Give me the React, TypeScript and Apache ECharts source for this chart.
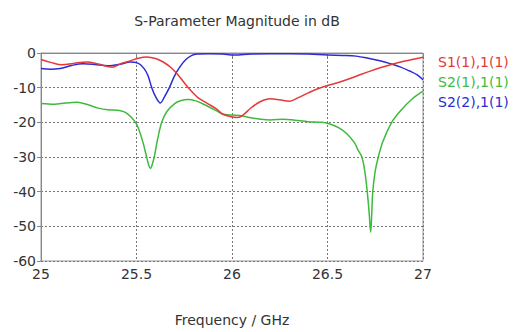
import React, { useEffect, useRef } from "react";
import * as echarts from "echarts";

const titleText = "S-Parameter Magnitude in dB";
const xAxisName = "Frequency / GHz";
const seriesNames = ["S1(1),1(1)", "S2(1),1(1)", "S2(2),1(1)"];
const seriesColors = ["#e5383b", "#3dbb3d", "#2b2bd6"];

const s11Freq = [25, 25.05, 25.11, 25.17, 25.24, 25.3, 25.375, 25.42, 25.47, 25.51, 25.553, 25.6, 25.64, 25.68, 25.72, 25.771, 25.82, 25.87, 25.92, 25.95, 25.99, 26.03, 26.06, 26.1, 26.15, 26.2, 26.25, 26.3, 26.35, 26.4, 26.45, 26.5, 26.58, 26.65, 26.72, 26.78, 26.83, 26.9, 26.95, 27];
const s11Val = [-1.9, -2.7, -3.4, -3.0, -2.6, -3.2, -4.1, -3.0, -2.2, -1.5, -1.15, -1.6, -2.6, -4.2, -6.5, -10, -12.8, -14.5, -16.2, -17.6, -18.3, -18.6, -17.8, -15.8, -14.0, -13.2, -13.5, -13.9, -12.8, -11.5, -10.3, -9.4, -8.1, -6.7, -5.3, -4.2, -3.4, -2.4, -1.8, -1.2];

const s21Freq = [25, 25.07, 25.13, 25.19, 25.25, 25.3, 25.35, 25.41, 25.45, 25.495, 25.515, 25.535, 25.553, 25.565, 25.574, 25.583, 25.593, 25.61, 25.632, 25.66, 25.7, 25.73, 25.77, 25.81, 25.86, 25.92, 25.95, 26.0, 26.04, 26.1, 26.15, 26.2, 26.27, 26.33, 26.4, 26.47, 26.52, 26.56, 26.6, 26.64, 26.66, 26.68, 26.695, 26.708, 26.718, 26.726, 26.732, 26.737, 26.75, 26.766, 26.79, 26.836, 26.88, 26.94, 27];
const s21Val = [-14.6, -14.8, -14.4, -14.2, -15.0, -15.9, -16.4, -16.6, -17.4, -20, -22.5, -26, -30, -32.5, -33.3, -32, -30, -25, -20, -16.8, -14.6, -13.8, -13.4, -13.8, -15.0, -16.7, -17.6, -17.9, -18.0, -18.7, -19.1, -19.3, -19.1, -19.4, -19.8, -20.0, -20.6, -21.6, -23.2, -25.8, -28.0, -30, -34, -40, -46, -51.7, -46, -40, -34, -30, -25.5, -20, -16.8, -13.4, -11];

const s22Freq = [25, 25.05, 25.1, 25.16, 25.22, 25.28, 25.35, 25.42, 25.466, 25.51, 25.54, 25.56, 25.58, 25.6, 25.625, 25.645, 25.672, 25.7, 25.73, 25.76, 25.79, 25.815, 25.88, 25.95, 26.01, 26.1, 26.2, 26.3, 26.4, 26.5, 26.58, 26.65, 26.72, 26.78, 26.83, 26.88, 26.93, 26.97, 27];
const s22Val = [-4.5, -4.7, -4.5, -3.6, -3.1, -3.3, -3.7, -3.2, -2.6, -3.0, -4.5, -6.5, -10, -12.6, -14.4, -12.8, -10, -6.5, -3.8, -1.8, -0.7, -0.3, -0.2, -0.3, -0.6, -0.3, -0.2, -0.2, -0.3, -0.6, -0.7, -0.9, -1.6, -2.3, -3.1, -4.0, -5.2, -6.3, -7.7];

const yTicks = [-60, -50, -40, -30, -20, -10, 0];
const xTicks = [25, 25.5, 26, 26.5, 27];

const FONT = "DejaVu Sans";

function pairs(f: number[], v: number[]) {
  return f.map((x, i) => [x, v[i]]);
}

export default function App() {
  const ref = useRef<HTMLDivElement>(null);
  useEffect(() => {
    if (!ref.current) return;
    const chart = echarts.init(ref.current, undefined, { renderer: "svg" });
    const data = [pairs(s11Freq, s11Val), pairs(s21Freq, s21Val), pairs(s22Freq, s22Val)];
    chart.setOption({
      animation: false,
      backgroundColor: "#ffffff",
      title: {
        text: titleText,
        left: 232,
        textAlign: "center",
        top: 9,
        textStyle: { fontFamily: FONT, fontSize: 14, fontWeight: "normal", color: "#333" },
      },
      grid: {
        left: 41,
        right: 90,
        top: 53,
        bottom: 70,
        show: true,
        borderColor: "#999",
        borderWidth: 1,
      },
      xAxis: {
        type: "value",
        min: xTicks[0],
        max: xTicks[xTicks.length - 1],
        interval: 0.5,
        name: xAxisName,
        nameLocation: "middle",
        nameGap: 52,
        nameTextStyle: { fontFamily: FONT, fontSize: 14, color: "#333" },
        axisLine: { show: true, lineStyle: { color: "#888" } },
        axisTick: { show: true, length: 4, lineStyle: { color: "#888" } },
        axisLabel: { fontFamily: FONT, fontSize: 14, color: "#333", margin: 6 },
        splitLine: { show: true, lineStyle: { type: [2, 2], color: "#777", width: 1 } },
      },
      yAxis: {
        type: "value",
        min: yTicks[0],
        max: yTicks[yTicks.length - 1],
        interval: 10,
        axisLine: { show: true, lineStyle: { color: "#888" } },
        axisTick: { show: true, length: 4, lineStyle: { color: "#888" } },
        axisLabel: { fontFamily: FONT, fontSize: 14, color: "#333", margin: 5 },
        splitLine: { show: true, lineStyle: { type: [2, 2], color: "#777", width: 1 } },
      },
      graphic: seriesNames.map((n, i) => ({
        type: "text",
        left: 438,
        top: 55 + i * 20,
        style: { text: n, fill: seriesColors[i], font: `14px "${FONT}"` },
      })),
      series: seriesNames.map((n, i) => ({
        name: n,
        type: "line",
        data: data[i],
        showSymbol: false,
        smooth: 0.35,
        lineStyle: { color: seriesColors[i], width: 1.5 },
        itemStyle: { color: seriesColors[i] },
        z: 3 - i,
      })),
    });
    return () => chart.dispose();
  }, []);
  return <div ref={ref} style={{ width: 513, height: 332, position: "absolute", left: 0, top: 0 }} />;
}
